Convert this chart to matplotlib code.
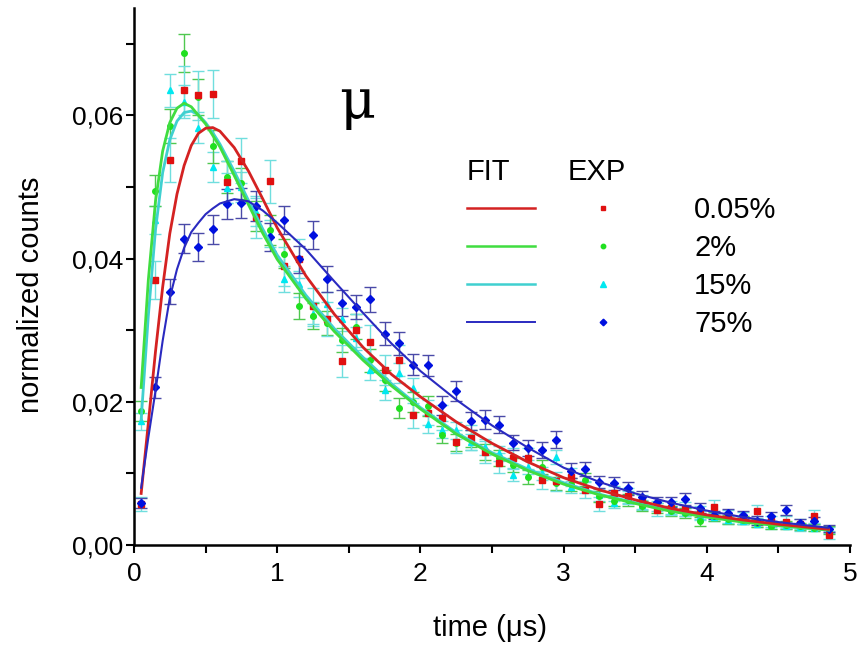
import numpy as np
import matplotlib
matplotlib.use("Agg")
import matplotlib.pyplot as plt
from matplotlib.lines import Line2D
from matplotlib.legend_handler import HandlerTuple
from matplotlib.ticker import MultipleLocator, FuncFormatter

plt.rcParams['font.family'] = ['Liberation Sans', 'DejaVu Sans']

# --- measured points (time in us, bin centres) ---
t_exp = [0.05, 0.15, 0.25, 0.35, 0.45, 0.55, 0.65, 0.75, 0.85, 0.95,
         1.05, 1.15, 1.25, 1.35, 1.45, 1.55, 1.65, 1.75, 1.85, 1.95,
         2.05, 2.15, 2.25, 2.35, 2.45, 2.55, 2.65, 2.75, 2.85, 2.95,
         3.05, 3.15, 3.25, 3.35, 3.45, 3.55, 3.65, 3.75, 3.85, 3.95,
         4.05, 4.15, 4.25, 4.35, 4.45, 4.55, 4.65, 4.75, 4.85]

exp_005 = [0.0057, 0.0370, 0.0538, 0.0635, 0.0628, 0.0630, 0.0507, 0.0537, 0.0458, 0.0508,
           0.0389, 0.0400, 0.0334, 0.0316, 0.0257, 0.0300, 0.0284, 0.0244, 0.0258, 0.0181,
           0.0185, 0.0178, 0.0144, 0.0150, 0.0130, 0.0115, 0.0121, 0.0121, 0.0091, 0.0089,
           0.0095, 0.0077, 0.0057, 0.0072, 0.0068, 0.0060, 0.0049, 0.0052, 0.0050, 0.0045,
           0.0053, 0.0040, 0.0038, 0.0047, 0.0033, 0.0032, 0.0030, 0.0040, 0.0014]
err_005 = [0.0010, 0.0026, 0.0031, 0.0034, 0.0034, 0.0034, 0.0030, 0.0031, 0.0029, 0.0030,
           0.0027, 0.0027, 0.0025, 0.0024, 0.0022, 0.0023, 0.0023, 0.0021, 0.0022, 0.0018,
           0.0018, 0.0018, 0.0016, 0.0017, 0.0015, 0.0014, 0.0015, 0.0015, 0.0013, 0.0013,
           0.0013, 0.0012, 0.0010, 0.0011, 0.0011, 0.0010, 0.0009, 0.0010, 0.0010, 0.0009,
           0.0010, 0.0009, 0.0008, 0.0009, 0.0008, 0.0008, 0.0007, 0.0009, 0.0005]

exp_2 = [0.0187, 0.0495, 0.0585, 0.0687, 0.0626, 0.0557, 0.0514, 0.0505, 0.0460, 0.0440,
         0.0407, 0.0334, 0.0320, 0.0310, 0.0286, 0.0305, 0.0258, 0.0230, 0.0191, 0.0200,
         0.0194, 0.0154, 0.0143, 0.0149, 0.0130, 0.0121, 0.0112, 0.0095, 0.0109, 0.0086,
         0.0085, 0.0091, 0.0068, 0.0062, 0.0063, 0.0055, 0.0052, 0.0047, 0.0045, 0.0033,
         0.0040, 0.0036, 0.0035, 0.0031, 0.0027, 0.0028, 0.0026, 0.0024, 0.0021]
err_2 = [0.0014, 0.0022, 0.0024, 0.0026, 0.0025, 0.0023, 0.0022, 0.0022, 0.0021, 0.0021,
         0.0020, 0.0018, 0.0018, 0.0017, 0.0017, 0.0017, 0.0016, 0.0015, 0.0014, 0.0014,
         0.0014, 0.0012, 0.0012, 0.0012, 0.0011, 0.0011, 0.0010, 0.0010, 0.0010, 0.0009,
         0.0009, 0.0009, 0.0008, 0.0008, 0.0008, 0.0007, 0.0007, 0.0007, 0.0007, 0.0006,
         0.0006, 0.0006, 0.0006, 0.0006, 0.0005, 0.0005, 0.0005, 0.0005, 0.0005]

exp_15 = [0.0173, 0.0454, 0.0635, 0.0619, 0.0583, 0.0528, 0.0499, 0.0500, 0.0465, 0.0435,
          0.0372, 0.0365, 0.0323, 0.0337, 0.0315, 0.0289, 0.0244, 0.0216, 0.0240, 0.0219,
          0.0169, 0.0161, 0.0160, 0.0144, 0.0137, 0.0128, 0.0098, 0.0109, 0.0100, 0.0123,
          0.0081, 0.0080, 0.0070, 0.0058, 0.0067, 0.0056, 0.0054, 0.0049, 0.0046, 0.0041,
          0.0039, 0.0035, 0.0034, 0.0030, 0.0028, 0.0027, 0.0025, 0.0024, 0.0021]
err_15 = [0.0012, 0.0020, 0.0023, 0.0023, 0.0022, 0.0021, 0.0021, 0.0021, 0.0020, 0.0019,
          0.0018, 0.0018, 0.0017, 0.0017, 0.0016, 0.0016, 0.0014, 0.0014, 0.0014, 0.0014,
          0.0012, 0.0012, 0.0012, 0.0011, 0.0011, 0.0010, 0.0009, 0.0010, 0.0009, 0.0010,
          0.0008, 0.0008, 0.0008, 0.0007, 0.0008, 0.0007, 0.0007, 0.0006, 0.0006, 0.0006,
          0.0006, 0.0005, 0.0005, 0.0005, 0.0005, 0.0005, 0.0005, 0.0005, 0.0004]

exp_75 = [0.0059, 0.0220, 0.0354, 0.0428, 0.0416, 0.0441, 0.0476, 0.0478, 0.0473, 0.0430,
          0.0454, 0.0399, 0.0433, 0.0371, 0.0338, 0.0332, 0.0343, 0.0295, 0.0282, 0.0252,
          0.0251, 0.0195, 0.0215, 0.0173, 0.0175, 0.0168, 0.0143, 0.0135, 0.0133, 0.0147,
          0.0104, 0.0106, 0.0088, 0.0086, 0.0079, 0.0067, 0.0060, 0.0060, 0.0064, 0.0051,
          0.0042, 0.0044, 0.0042, 0.0034, 0.0040, 0.0049, 0.0031, 0.0033, 0.0023]
err_75 = [0.0007, 0.0014, 0.0018, 0.0020, 0.0020, 0.0020, 0.0021, 0.0021, 0.0021, 0.0020,
          0.0020, 0.0019, 0.0020, 0.0018, 0.0018, 0.0017, 0.0018, 0.0016, 0.0016, 0.0015,
          0.0015, 0.0013, 0.0014, 0.0013, 0.0013, 0.0012, 0.0011, 0.0011, 0.0011, 0.0012,
          0.0010, 0.0010, 0.0009, 0.0009, 0.0009, 0.0008, 0.0007, 0.0007, 0.0008, 0.0007,
          0.0006, 0.0006, 0.0006, 0.0006, 0.0006, 0.0007, 0.0005, 0.0006, 0.0005]

# --- fitted curves ---
t_fit = [0.05, 0.1, 0.15, 0.2, 0.25, 0.3, 0.35, 0.4, 0.45, 0.5, 0.55, 0.6,
         0.7, 0.8, 0.9, 1.0, 1.2, 1.4, 1.6, 1.8, 2.0, 2.25, 2.5, 2.75,
         3.0, 3.25, 3.5, 3.75, 4.0, 4.25, 4.5, 4.85]
fit_005 = [0.0072, 0.0170, 0.0270, 0.0360, 0.0435, 0.0490, 0.0530, 0.0558, 0.0575, 0.0582, 0.0583, 0.0578,
           0.0555, 0.0522, 0.0483, 0.0443, 0.0376, 0.0322, 0.0276, 0.0238, 0.0207, 0.0172, 0.0142, 0.0116,
           0.0094, 0.0077, 0.0063, 0.0051, 0.0042, 0.0035, 0.0029, 0.0022]
fit_2 = [0.0220, 0.0370, 0.0480, 0.0550, 0.0590, 0.0610, 0.0617, 0.0612, 0.0600, 0.0588, 0.0572, 0.0556,
         0.0516, 0.0475, 0.0435, 0.0399, 0.0344, 0.0298, 0.0258, 0.0222, 0.0190, 0.0155, 0.0127, 0.0104,
         0.0085, 0.0070, 0.0058, 0.0047, 0.0039, 0.0032, 0.0027, 0.0021]
fit_15 = [0.0175, 0.0320, 0.0440, 0.0520, 0.0566, 0.0592, 0.0604, 0.0606, 0.0601, 0.0590, 0.0576, 0.0560,
          0.0522, 0.0481, 0.0441, 0.0405, 0.0349, 0.0302, 0.0262, 0.0225, 0.0192, 0.0157, 0.0129, 0.0106,
          0.0087, 0.0071, 0.0059, 0.0048, 0.0040, 0.0033, 0.0027, 0.0021]
fit_75 = [0.0080, 0.0150, 0.0215, 0.0285, 0.0345, 0.0385, 0.0415, 0.0437, 0.0450, 0.0462, 0.0470, 0.0477,
          0.0483, 0.0480, 0.0467, 0.0450, 0.0413, 0.0368, 0.0324, 0.0281, 0.0243, 0.0203, 0.0167, 0.0136,
          0.0108, 0.0088, 0.0072, 0.0059, 0.0048, 0.0039, 0.0032, 0.0024]

labels = ['0.05%', '2%', '15%', '75%']

series = [
    # exp, err, fit, fit colour, marker, marker colour, errbar colour, marker size
    (exp_15, err_15, fit_15, '#40d0d0', '^', '#00e8f0', '#70dede', 5.0),
    (exp_2, err_2, fit_2, '#40dd40', 'o', '#20e020', '#50c850', 4.0),
    (exp_005, err_005, fit_005, '#d42222', 's', '#e01010', '#70dede', 3.8),
    (exp_75, err_75, fit_75, '#2a2ac0', 'D', '#0010e0', '#4a4aa8', 4.2),
]

fig = plt.figure(figsize=(8.58, 6.47), dpi=100)
ax = fig.add_axes([134 / 858, 1 - 545 / 647, 716 / 858, 537 / 647])

for exp, err, fit, fc, mk, mc, ec, ms in series:
    ax.errorbar(t_exp, exp, yerr=err, fmt=mk, color=mc, ms=ms, mec=mc,
                ecolor=ec, elinewidth=1.0, capsize=4, capthick=1.0, zorder=2)
for exp, err, fit, fc, mk, mc, ec, ms in series:
    ax.plot(t_fit, fit, color=fc, lw=2.0 if mk != 'D' else 1.5, zorder=3)

ax.set_xlim(0, 5)
ax.set_ylim(0, 0.075)
for s in ['top', 'right']:
    ax.spines[s].set_visible(False)
for s in ['left', 'bottom']:
    ax.spines[s].set_linewidth(1.8)

ax.xaxis.set_major_locator(MultipleLocator(1))
ax.xaxis.set_minor_locator(MultipleLocator(0.5))
ax.yaxis.set_major_locator(MultipleLocator(0.02))
ax.yaxis.set_minor_locator(MultipleLocator(0.01))
ax.yaxis.set_major_formatter(FuncFormatter(lambda v, p: f"{v:.2f}".replace('.', ',')))
ax.xaxis.set_major_formatter(FuncFormatter(lambda v, p: f"{v:.0f}"))
ax.tick_params(which='both', direction='out', length=6, width=1.5, labelsize=19)
ax.tick_params(axis='x', pad=6)
ax.tick_params(axis='y', pad=2)

ax.set_xlabel('time (\u03bcs)', fontsize=21)
ax.set_ylabel('normalized counts', fontsize=21)
ax.xaxis.set_label_coords(0.497, -0.128)
ax.yaxis.set_label_coords(-0.124, 0.466)

ax.text(1.557, 0.0596, '\u03bc', fontsize=40, family=['DejaVu Serif'],
        ha='center', va='baseline')

# legend: line (FIT) + marker (EXP) + label
order = [2, 1, 0, 3]
handles = []
for i in order:
    exp, err, fit, fc, mk, mc, ec, ms = series[i]
    ln = Line2D([], [], color=fc, lw=1.8 if mk != 'D' else 1.4)
    pt = Line2D([], [], ls='none', marker=mk, color=mc, ms=ms * 0.8)
    handles.append((ln, pt))
leg = ax.legend(handles, labels, handler_map={tuple: HandlerTuple(ndivide=None, pad=1.17)},
                loc='upper left', bbox_to_anchor=(0.465, 0.650), frameon=False,
                fontsize=21, handlelength=5.85, handletextpad=1.94, labelspacing=0.345,
                borderpad=0, borderaxespad=0)
ax.text(0.465, 0.680, 'FIT', transform=ax.transAxes, fontsize=21, ha='left', va='baseline')
ax.text(0.606, 0.680, 'EXP', transform=ax.transAxes, fontsize=21, ha='left', va='baseline')

fig.savefig('out.png', dpi=100)
